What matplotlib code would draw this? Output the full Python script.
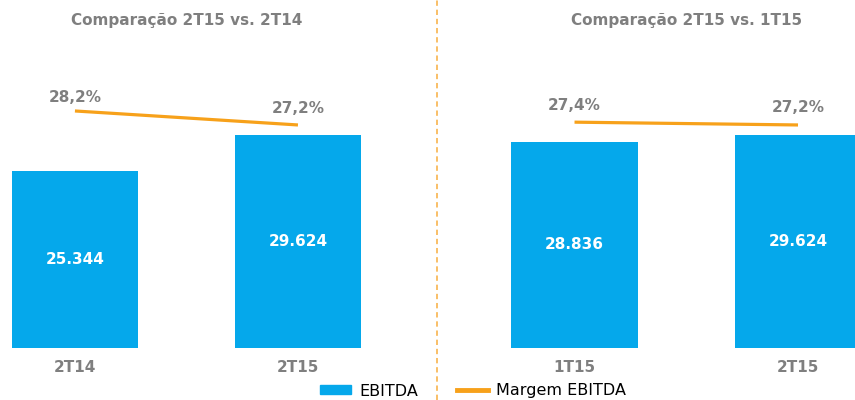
import matplotlib
matplotlib.use("Agg")
from matplotlib import pyplot as plt
from matplotlib.lines import Line2D
from matplotlib.patches import Patch

# data
left_cats = ["2T14", "2T15"]
left_ebitda = [25344, 29624]
left_margem = [28.2, 27.2]
right_cats = ["1T15", "2T15"]
right_ebitda = [28836, 29624]
right_margem = [27.4, 27.2]
titles = ["Comparação 2T15 vs. 2T14", "Comparação 2T15 vs. 1T15"]

BLUE = "#05a8eb"
ORANGE = "#f7a11a"
GRAY = "#7f7f7f"

W, H = 855, 400
plt.rcParams["font.family"] = "DejaVu Sans"
fig = plt.figure(figsize=(W / 100, H / 100), dpi=100)


def fmt_int(v):
    return f"{v:,}".replace(",", ".")


def fmt_pct(v):
    return f"{v:.1f}%".replace(".", ",")


def panel(x0, x1, xlim, cats, ebitda, margem, title, offs):
    ax = fig.add_axes([x0 / W, 1 - 348 / H, (x1 - x0) / W, 288 / H])
    xs = list(range(len(cats)))
    ax.bar(xs, ebitda, width=0.565, color=BLUE, zorder=2)
    ax.set_xlim(*xlim)
    ax.set_ylim(4000, 38700)
    for s in ax.spines.values():
        s.set_visible(False)
    ax.set_yticks([])
    ax.set_xticks(xs)
    ax.set_xticklabels(cats, fontsize=11, fontweight="bold", color=GRAY)
    ax.tick_params(axis="x", length=0, pad=9)
    for x, v in zip(xs, ebitda):
        ax.text(x, (4000 + v) / 2, fmt_int(v), ha="center", va="center",
                color="white", fontsize=11, fontweight="bold", zorder=3)
    ax2 = ax.twinx()
    ax2.set_ylim(11.27, 31.84)
    ax2.plot(xs, margem, color=ORANGE, lw=2.3, solid_capstyle="butt")
    ax2.set_yticks([])
    for s in ax2.spines.values():
        s.set_visible(False)
    for x, v, o in zip(xs, margem, offs):
        ax2.annotate(fmt_pct(v), (x, v), xytext=(0, o),
                     textcoords="offset points", ha="center", va="center",
                     color=GRAY, fontsize=11, fontweight="bold")
    cx = ax.transData.transform((0.5, 0))[0] / W
    fig.text(cx, 1 - 20 / H, title, ha="center", va="center",
             color=GRAY, fontsize=11, fontweight="bold")
    return ax


panel(0, 372, (-0.336, 1.332), left_cats, left_ebitda, left_margem, titles[0], (9.5, 12))
panel(463, 855, (-0.499, 1.255), right_cats, right_ebitda, right_margem, titles[1], (12, 12.5))

# dashed separator
fig.add_artist(Line2D([437 / W, 437 / W], [0, 1], transform=fig.transFigure,
                      color="#f8ae3e", lw=1.1, linestyle=(0, (3.5, 2.5))))

handles = [Patch(color=BLUE, label="EBITDA"),
           Line2D([], [], color=ORANGE, lw=3.5, label="Margem EBITDA")]
fig.legend(handles=handles, loc="center", bbox_to_anchor=(473 / W, 1 - 391 / H),
           ncol=2, frameon=False, fontsize=11.5, handlelength=1.95,
           handleheight=0.5, columnspacing=2.45, handletextpad=0.5,
           borderpad=0, borderaxespad=0)

fig.savefig("out.png", dpi=100)
print("Saved out.png")
